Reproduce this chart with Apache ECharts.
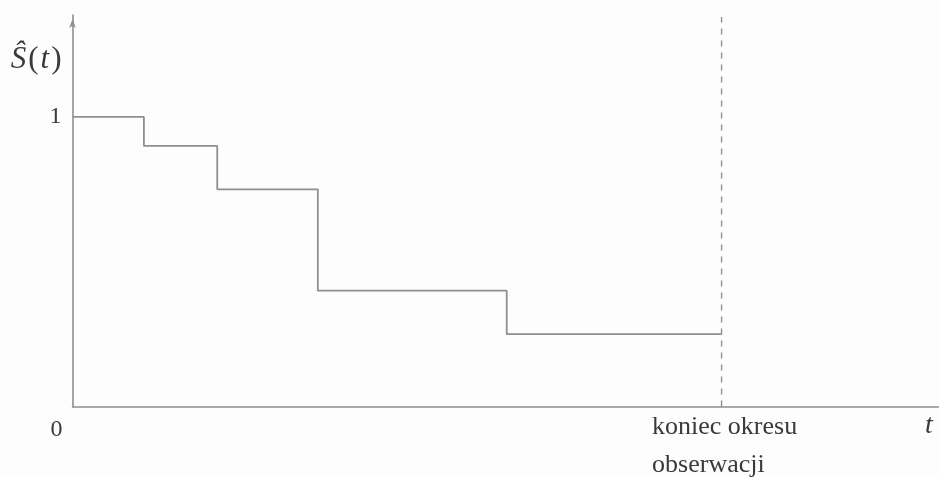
<!DOCTYPE html>
<html>
<head>
<meta charset="utf-8">
<style>
  html, body { margin: 0; padding: 0; background: #fdfdfd; }
  #chart { width: 939px; height: 477px; }
</style>
<script src="https://cdn.jsdelivr.net/npm/echarts@6/dist/echarts.min.js"></script>
</head>
<body>
<div id="chart"></div>
<script>
// Kaplan–Meier style survival estimate: event times and step heights
const eventTimes = [0, 1.1, 2.23, 3.78, 6.69, 10];
const survival   = [1, 0.9, 0.75, 0.4, 0.25, 0.25];
// end of the observation window
const observationEnd = 10;
// labelled positions on the axes
const yTickValues = [1];
const xTickValues = [0, observationEnd];
const endLabelLines = ['koniec okresu', 'obserwacji'];

const ink = '#3a3a3a';
const lineGray = '#8f8f8f';
const serif = '"Liberation Serif", "DejaVu Serif", serif';

const chart = echarts.init(document.getElementById('chart'), null, { renderer: 'canvas' });

chart.setOption({
  backgroundColor: '#fdfdfd',
  animation: false,
  grid: { left: 72.5, right: 0, top: 15, bottom: 70.5, containLabel: false, outerBoundsMode: 'none' },
  xAxis: {
    type: 'value',
    min: 0,
    max: 13.35,
    splitLine: { show: false },
    axisTick: { show: false },
    axisLine: { lineStyle: { color: lineGray, width: 1.6 } },
    axisLabel: {
      customValues: xTickValues,
      margin: 2,
      formatter: v => v === 0
        ? '{z|0}'
        : endLabelLines.map(s => '{a|' + s + '}').join('\n'),
      rich: {
        z: { fontFamily: serif, fontSize: 24, color: ink, padding: [9, 32, 0, 0] },
        a: { fontFamily: serif, fontSize: 26, color: ink, width: 148, align: 'left', lineHeight: 38, padding: [0, 0, 0, 9] }
      }
    },
    name: 't',
    nameLocation: 'end',
    nameGap: -14,
    nameTextStyle: {
      fontFamily: serif, fontStyle: 'italic', fontSize: 28, color: ink,
      align: 'left', verticalAlign: 'top', padding: [5, 0, 0, 0]
    }
  },
  yAxis: {
    type: 'value',
    min: 0,
    max: 1.352,
    splitLine: { show: false },
    axisTick: { show: false },
    axisLine: {
      lineStyle: { color: lineGray, width: 1.6 },
      symbol: ['none', 'arrow'],
      symbolSize: [5, 9],
      symbolOffset: [0, -4]
    },
    axisLabel: {
      customValues: yTickValues,
      margin: 11,
      fontFamily: serif,
      fontSize: 24,
      color: ink,
      formatter: v => String(v)
    },
    name: '{s|Ŝ}{p|(}{s|t}{p|)}',
    nameLocation: 'end',
    nameGap: -45,
    nameTextStyle: {
      align: 'right',
      verticalAlign: 'middle',
      padding: [0, 10, 0, 0],
      rich: {
        s: { fontFamily: serif, fontStyle: 'italic', fontSize: 31, color: ink, padding: [0, 1, 0, 1] },
        p: { fontFamily: serif, fontSize: 31, color: ink, padding: [0, 1, 0, 1] }
      }
    }
  },
  series: [
    {
      type: 'line',
      step: 'end',
      data: eventTimes.map((t, i) => [t, survival[i]]),
      showSymbol: false,
      lineStyle: { color: lineGray, width: 1.8 },
      silent: true
    },
    {
      type: 'line',
      data: [[observationEnd, 0], [observationEnd, 1.345]],
      showSymbol: false,
      lineStyle: { color: lineGray, width: 1.4, type: [6, 6] },
      silent: true
    }
  ]
});
</script>
</body>
</html>
